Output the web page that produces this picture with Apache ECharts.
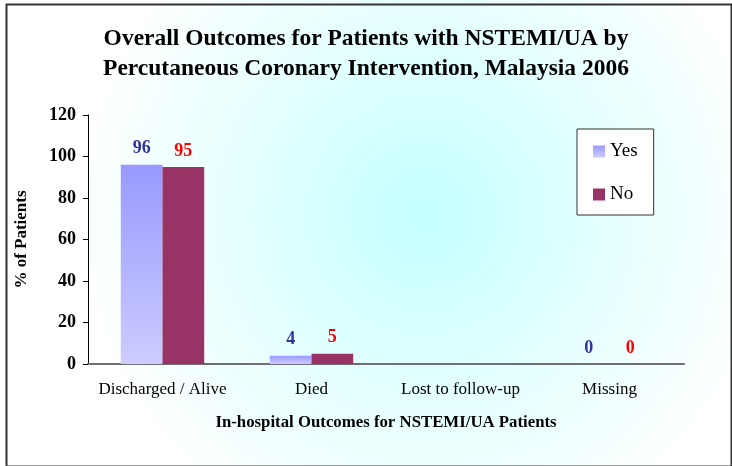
<!DOCTYPE html>
<html>
<head>
<meta charset="utf-8">
<script src="https://cdn.jsdelivr.net/npm/echarts@6/dist/echarts.min.js"></script>
<style>
html,body{margin:0;padding:0;background:#fff;}
#c{width:732px;height:466px;}
</style>
</head>
<body>
<div id="c"></div>
<script>
const categories = ['Discharged / Alive', 'Died', 'Lost to follow-up', 'Missing'];
const yesValues = [96, 4, null, 0];
const noValues = [95, 5, null, 0];
const seriesNames = ['Yes', 'No'];
const yTicks = [0, 20, 40, 60, 80, 100, 120];

const serif = '"Liberation Serif", "Times New Roman", serif';
const chart = echarts.init(document.getElementById('c'));
chart.setOption({
  backgroundColor: {
    type: 'radial', x: 0.58, y: 0.46, r: 0.75,
    colorStops: [
      {offset: 0, color: '#c4ffff'},
      {offset: 0.55, color: '#e6ffff'},
      {offset: 1, color: '#ffffff'}
    ]
  },
  animation: false,
  title: {
    text: 'Overall Outcomes for Patients with NSTEMI/UA by\nPercutaneous Coronary Intervention, Malaysia 2006',
    left: 'center',
    top: 19,
    textStyle: {fontFamily: serif, fontWeight: 'bold', fontSize: 23.5, color: '#000', lineHeight: 30}
  },
  legend: {
    orient: 'vertical',
    left: 577,
    top: 129,
    padding: [13, 16, 11, 16],
    itemGap: 24,
    itemWidth: 12,
    itemHeight: 12,
    icon: 'rect',
    borderColor: '#333',
    borderWidth: 1,
    backgroundColor: '#ffffff',
    textStyle: {fontFamily: serif, fontSize: 19, color: '#000'},
    data: seriesNames
  },
  grid: {left: 88, right: 48, top: 115, bottom: 102},
  xAxis: {
    type: 'category',
    data: categories,
    name: 'In-hospital Outcomes for NSTEMI/UA Patients',
    nameLocation: 'middle',
    nameGap: 50,
    nameTextStyle: {fontFamily: serif, fontWeight: 'bold', fontSize: 16.8, color: '#000'},
    axisLine: {lineStyle: {color: '#707070', width: 2}},
    axisTick: {length: 5, lineStyle: {color: '#000', width: 1}},
    axisLabel: {interval: 0, fontFamily: serif, fontSize: 17, color: '#000', margin: 17}
  },
  yAxis: {
    type: 'value',
    min: 0, max: 120, interval: 20,
    name: '% of Patients',
    nameLocation: 'middle',
    nameGap: 58,
    nameRotate: 90,
    nameTextStyle: {fontFamily: serif, fontWeight: 'bold', fontSize: 17, color: '#000'},
    axisLine: {show: true, lineStyle: {color: '#000', width: 1}},
    axisTick: {show: true, length: 5, lineStyle: {color: '#000'}},
    splitLine: {show: false},
    axisLabel: {fontFamily: serif, fontWeight: 'bold', fontSize: 18, color: '#000', margin: 12,
      formatter: v => yTicks.includes(v) ? String(v) : ''}
  },
  series: [
    {
      name: seriesNames[0], type: 'bar', data: yesValues,
      barGap: '0%', barCategoryGap: '44%',
      itemStyle: {color: {type: 'linear', x: 0, y: 0, x2: 0, y2: 1, colorStops: [
        {offset: 0, color: '#9999ff'}, {offset: 1, color: '#ccccff'}]}},
      label: {show: true, position: 'top', distance: 7, fontFamily: serif, fontWeight: 'bold', fontSize: 18, color: '#333399'}
    },
    {
      name: seriesNames[1], type: 'bar', data: noValues,
      itemStyle: {color: '#993366'},
      label: {show: true, position: 'top', distance: 7, fontFamily: serif, fontWeight: 'bold', fontSize: 18, color: '#ff0000'}
    }
  ],
  graphic: [{
    type: 'rect', left: 4, top: 2, silent: true,
    shape: {x: 0, y: 0, width: 725, height: 462},
    style: {fill: 'none', stroke: '#333', lineWidth: 2}
  }]
});
</script>
</body>
</html>
